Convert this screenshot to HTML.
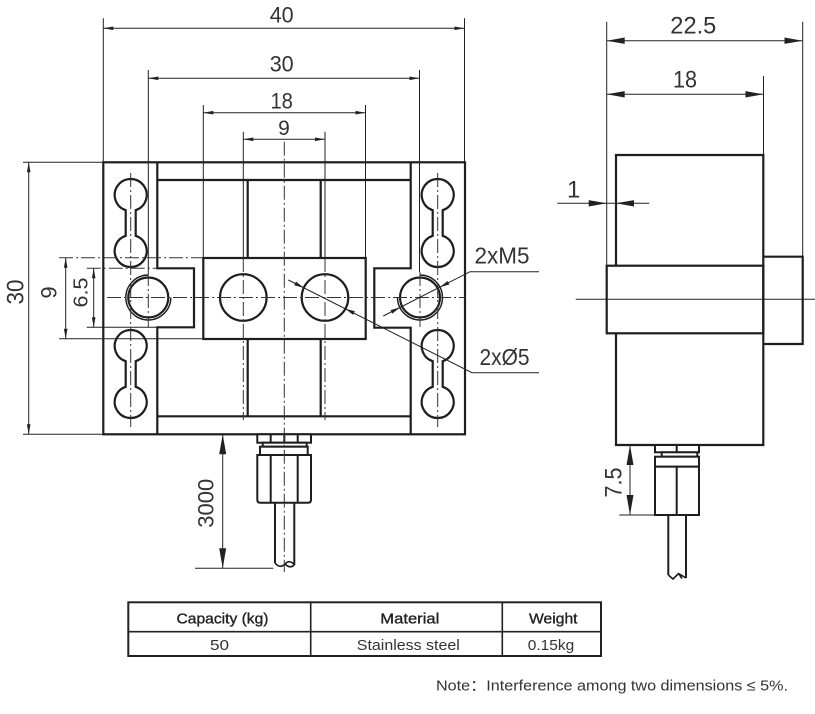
<!DOCTYPE html>
<html>
<head>
<meta charset="utf-8">
<style>
  html,body{margin:0;padding:0;background:#fff;}
  svg{display:block;}
  text{font-family:"Liberation Sans","Noto Sans CJK SC",sans-serif;fill:#333;}
</style>
</head>
<body>
<svg width="815" height="714" viewBox="0 0 815 714" xmlns="http://www.w3.org/2000/svg">
<rect x="0" y="0" width="815" height="714" fill="#fff"/>

<!-- ================= LEFT VIEW ================= -->
<g stroke="#1e1e1e" stroke-width="2.2" fill="none" stroke-linejoin="miter">
  <!-- outer frame -->
  <rect x="103.3" y="162.3" width="361.7" height="272"/>
  <!-- rail inner lines + tabs -->
  <path d="M157.3 162.3 V268.3 H194 V327.3 H157.3 V434.3"/>
  <path d="M410.7 162.3 V268.3 H374.3 V327.7 H410.7 V434.3"/>
  <!-- inner frame -->
  <path d="M157.3 180 H410.7 M157.3 416.3 H410.7"/>
  <!-- beams -->
  <path d="M247.7 180 V258 M320.7 180 V258 M247.7 339 V416.3 M320.7 339 V416.3"/>
  <!-- block -->
  <rect x="203.3" y="258" width="162.4" height="81"/>
  <!-- block holes -->
  <circle cx="243.3" cy="297.5" r="23.3"/>
  <circle cx="325" cy="297.5" r="23.3"/>
  <!-- threaded holes -->
  <circle cx="148.3" cy="297.5" r="20"/>
  <circle cx="420" cy="297.5" r="20"/>
  <!-- slots -->
  <path d="M135.7 210.2 A16 16 0 1 0 125.7 210.2 L125.7 235.8 A16 16 0 1 0 135.7 235.8 Z"/>
  <path d="M135.7 361.2 A16 16 0 1 0 125.7 361.2 L125.7 386.8 A16 16 0 1 0 135.7 386.8 Z"/>
  <path d="M442.7 210.2 A16 16 0 1 0 432.7 210.2 L432.7 235.8 A16 16 0 1 0 442.7 235.8 Z"/>
  <path d="M442.7 361.2 A16 16 0 1 0 432.7 361.2 L432.7 386.8 A16 16 0 1 0 442.7 386.8 Z"/>
</g>
<!-- thread outer arcs -->
<g stroke="#1e1e1e" stroke-width="1.4" fill="none">
  <path d="M148.3 275 A22.5 22.5 0 1 0 170.8 297.5"/>
  <path d="M420 275 A22.5 22.5 0 1 1 397.5 297.5"/>
</g>

<!-- connector left -->
<g stroke="#1e1e1e" stroke-width="2" fill="#fff">
  <rect x="257.3" y="434.3" width="53.7" height="8.4"/>
  <path d="M270.7 434.3 V442.7 M284.3 434.3 V442.7 M297.7 434.3 V442.7" fill="none"/>
  <rect x="262.7" y="442.7" width="44" height="4"/>
  <rect x="260" y="446.7" width="47.7" height="8.3"/>
  <path d="M257.3 455 H311 V499.7 Q311 502.7 308 502.7 H260.3 Q257.3 502.7 257.3 499.7 Z"/>
  <path d="M270.7 455 V502.7 M297.7 455 V502.7" fill="none"/>
  <path d="M275 502.7 V563 M294.3 502.7 V565" fill="none"/>
  <path d="M275 563 Q280 569 285 564 Q290 559 294.3 565 M285 564 Q290 569 294.3 565" fill="none" stroke-width="1.6"/>
</g>

<!-- center lines (dash-dot) -->
<g stroke="#333" stroke-width="1" fill="none" stroke-dasharray="14 3 2 3">
  <path d="M107 297.5 H466"/>
  <path d="M284.3 141.7 V572"/>
  <path d="M130.7 173 V427"/>
  <path d="M437.7 173 V427"/>
  <path d="M243.3 258 V420"/>
  <path d="M325 258 V420"/>
  <path d="M148.3 272 V327"/>
  <path d="M420 272 V327"/>
  <path d="M59 257.7 H203.3"/>
  <path d="M86.7 268.3 H157.3"/>
</g>

<!-- extension / dimension lines left -->
<g stroke="#222" stroke-width="1" fill="none">
  <path d="M103.3 18.3 V162.3 M464.5 18.3 V162.3"/>
  <path d="M148.3 70 V272 M419.5 70 V272"/>
  <path d="M203.3 105 V258 M365.5 105 V258"/>
  <path d="M243.3 131.7 V258 M325 131.7 V258"/>
  <path d="M103.3 28.3 H464.5"/>
  <path d="M148.3 78.3 H419.5"/>
  <path d="M203.3 112.7 H365.5"/>
  <path d="M243.3 139.3 H325"/>
  <path d="M23 162.3 H103.3 M23 434.3 H103.3"/>
  <path d="M28.7 162.3 V434.3"/>
  <path d="M65.7 257.7 V338.7"/>
  <path d="M59 338.7 H203.3"/>
  <path d="M93.7 268.3 V327.3"/>
  <path d="M86.7 327.3 H157.3"/>
  <path d="M222.7 434.3 V568.3"/>
  <path d="M195 568.3 H273.3"/>
  <!-- leaders -->
  <path d="M539 271.7 H470 L383.3 316"/>
  <path d="M539 372.7 H472 L288.3 280"/>
</g>
<g fill="#222" stroke="none">
  <polygon points="103.3,28.3 113.3,26.5 113.3,30.1"/>
  <polygon points="464.5,28.3 454.5,26.5 454.5,30.1"/>
  <polygon points="148.3,78.3 158.3,76.5 158.3,80.1"/>
  <polygon points="419.5,78.3 409.5,76.5 409.5,80.1"/>
  <polygon points="203.3,112.7 213.3,110.9 213.3,114.5"/>
  <polygon points="365.5,112.7 355.5,110.9 355.5,114.5"/>
  <polygon points="243.3,139.3 253.3,137.5 253.3,141.1"/>
  <polygon points="325,139.3 315,137.5 315,141.1"/>
  <polygon points="28.7,162.3 26.9,172.3 30.5,172.3"/>
  <polygon points="28.7,434.3 26.9,424.3 30.5,424.3"/>
  <polygon points="65.7,257.7 63.9,267.7 67.5,267.7"/>
  <polygon points="65.7,338.7 63.9,328.7 67.5,328.7"/>
  <polygon points="93.7,268.3 91.9,278.3 95.5,278.3"/>
  <polygon points="93.7,327.3 91.9,317.3 95.5,317.3"/>
  <polygon points="222.7,434.3 219.2,454.3 226.2,454.3"/>
  <polygon points="222.7,568.3 219.2,548.3 226.2,548.3"/>
  <polygon points="439.6,287.3 449.4,284.5 447.6,281.0"/>
  <polygon points="400.3,307.3 392.3,313.6 390.5,310.1"/>
  <polygon points="304.0,287.9 296.0,281.6 294.2,285.2"/>
  <polygon points="345.1,308.6 354.9,311.3 353.1,314.9"/>
</g>

<!-- left texts -->
<text x="281.7" y="22.7" font-size="22" text-anchor="middle" textLength="24" lengthAdjust="spacingAndGlyphs">40</text>
<text x="281.7" y="71.7" font-size="22" text-anchor="middle" textLength="24" lengthAdjust="spacingAndGlyphs">30</text>
<text x="281.7" y="108.3" font-size="22" text-anchor="middle" textLength="22.5" lengthAdjust="spacingAndGlyphs">18</text>
<text x="284" y="135" font-size="21" text-anchor="middle">9</text>
<text transform="translate(23.3,292) rotate(-90)" font-size="24" text-anchor="middle" textLength="25" lengthAdjust="spacingAndGlyphs">30</text>
<text transform="translate(56.7,292.5) rotate(-90)" font-size="22" text-anchor="middle">9</text>
<text transform="translate(87.3,292.5) rotate(-90)" font-size="20" text-anchor="middle" textLength="30" lengthAdjust="spacingAndGlyphs">6.5</text>
<text transform="translate(213.3,503.3) rotate(-90)" font-size="22" text-anchor="middle" textLength="49" lengthAdjust="spacingAndGlyphs">3000</text>
<text x="474.5" y="263.3" font-size="23" textLength="55" lengthAdjust="spacingAndGlyphs">2xM5</text>
<text x="479.5" y="365" font-size="23" textLength="50" lengthAdjust="spacingAndGlyphs">2xØ5</text>

<!-- ================= RIGHT VIEW ================= -->
<g stroke="#1e1e1e" stroke-width="2.2" fill="none">
  <path d="M616 265.7 V155 H763.3 V445 H616 V333.3"/>
  <rect x="606.7" y="265.7" width="156.6" height="67.6"/>
  <path d="M763.3 256.7 H802.7 V344 H763.3"/>
</g>
<g stroke="#1e1e1e" stroke-width="2" fill="#fff">
  <rect x="655" y="445" width="44" height="7.3"/>
  <path d="M676.7 445 V452.3" fill="none"/>
  <rect x="661.7" y="452.3" width="35.6" height="4.4"/>
  <rect x="655" y="456.7" width="44" height="10"/>
  <rect x="655" y="466.7" width="44" height="48.3"/>
  <path d="M676.7 466.7 V515" fill="none"/>
  <path d="M668.3 515 V575 M686 515 V578" fill="none"/>
  <path d="M668.3 575 L673 579 L678.5 573.5 L686 578 M678.5 573.5 L682 578.5" fill="none" stroke-width="1.6"/>
</g>
<g stroke="#222" stroke-width="1" fill="none">
  <path d="M606.7 21.7 V265.7"/>
  <path d="M802.7 21.7 V256.7"/>
  <path d="M763.5 76 V155"/>
  <path d="M606.7 40.7 H802.5"/>
  <path d="M606.7 94.3 H763.5"/>
  <path d="M557.3 203.3 H649.3"/>
  <path d="M575.7 299.3 H815"/>
  <path d="M630 445 V515"/>
  <path d="M619.3 515 H655"/>
</g>
<g fill="#222" stroke="none">
  <polygon points="606.7,40.7 624.7,37.5 624.7,43.9"/>
  <polygon points="802.5,40.7 784.5,37.5 784.5,43.9"/>
  <polygon points="606.7,94.3 624.7,91.1 624.7,97.5"/>
  <polygon points="763.5,94.3 745.5,91.1 745.5,97.5"/>
  <polygon points="606.7,203.3 588.7,200.1 588.7,206.5"/>
  <polygon points="616,203.3 634,200.1 634,206.5"/>
  <polygon points="630,445 626.5,465 633.5,465"/>
  <polygon points="630,515 626.5,495 633.5,495"/>
</g>
<text x="693.3" y="33.3" font-size="24" text-anchor="middle" textLength="46" lengthAdjust="spacingAndGlyphs">22.5</text>
<text x="685" y="87.3" font-size="24" text-anchor="middle" textLength="24" lengthAdjust="spacingAndGlyphs">18</text>
<text x="567" y="197.3" font-size="24">1</text>
<text transform="translate(621.7,482.5) rotate(-90)" font-size="24" text-anchor="middle" textLength="30" lengthAdjust="spacingAndGlyphs">7.5</text>

<!-- ================= TABLE ================= -->
<g stroke="#222" fill="none">
  <rect x="128.3" y="602.3" width="472.7" height="53.7" stroke-width="2"/>
  <path d="M128.3 631.7 H601 M310.7 602.3 V656 M502.3 602.3 V656" stroke-width="1.6"/>
</g>
<g font-size="15">
  <text x="222.5" y="623.3" text-anchor="middle" textLength="92" lengthAdjust="spacingAndGlyphs" style="fill:#222;stroke:#222;stroke-width:0.35">Capacity (kg)</text>
  <text x="409.8" y="623.3" text-anchor="middle" textLength="59" lengthAdjust="spacingAndGlyphs" style="fill:#222;stroke:#222;stroke-width:0.35">Material</text>
  <text x="553.3" y="623.3" text-anchor="middle" textLength="48.5" lengthAdjust="spacingAndGlyphs" style="fill:#222;stroke:#222;stroke-width:0.35">Weight</text>
  <text x="219.5" y="650" text-anchor="middle" textLength="19" lengthAdjust="spacingAndGlyphs">50</text>
  <text x="408.3" y="650" text-anchor="middle" textLength="103" lengthAdjust="spacingAndGlyphs">Stainless steel</text>
  <text x="551" y="650" text-anchor="middle" textLength="46.5" lengthAdjust="spacingAndGlyphs">0.15kg</text>
</g>

<!-- note -->
<text x="436" y="690.5" font-size="15" textLength="352" lengthAdjust="spacingAndGlyphs">Note：Interference among two dimensions ≤ 5%.</text>

</svg>
</body>
</html>
